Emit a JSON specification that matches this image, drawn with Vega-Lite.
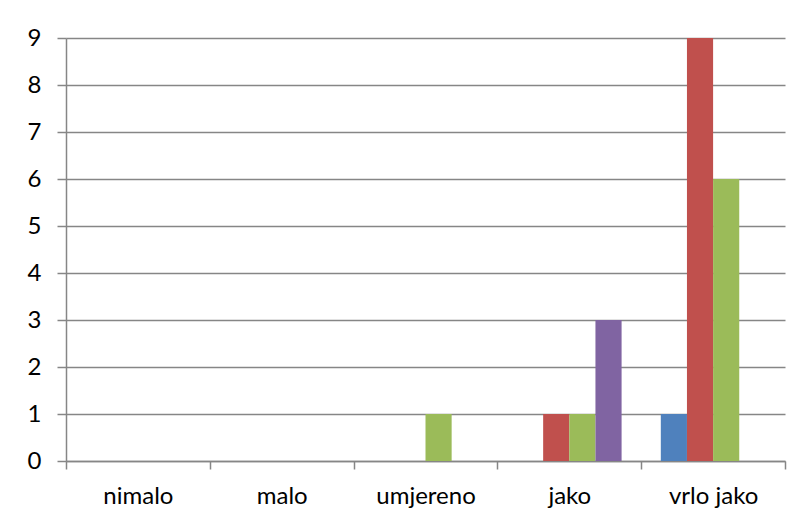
{
  "$schema": "https://vega.github.io/schema/vega-lite/v6.json",
  "autosize": "none",
  "width": 719,
  "height": 423,
  "padding": {"left": 66, "top": 38, "right": 17, "bottom": 63},
  "background": "white",
  "config": {
    "view": {"stroke": null},
    "font": "Lato",
    "axis": {"labelFont": "Lato", "labelFontSize": 24, "labelColor": "#000000", "labelFontWeight": "normal"}
  },
  "data": {
    "values": [
      {"kategorija": "nimalo", "serija": "S1", "broj": 0},
      {"kategorija": "nimalo", "serija": "S2", "broj": 0},
      {"kategorija": "nimalo", "serija": "S3", "broj": 0},
      {"kategorija": "nimalo", "serija": "S4", "broj": 0},
      {"kategorija": "malo", "serija": "S1", "broj": 0},
      {"kategorija": "malo", "serija": "S2", "broj": 0},
      {"kategorija": "malo", "serija": "S3", "broj": 0},
      {"kategorija": "malo", "serija": "S4", "broj": 0},
      {"kategorija": "umjereno", "serija": "S1", "broj": 0},
      {"kategorija": "umjereno", "serija": "S2", "broj": 0},
      {"kategorija": "umjereno", "serija": "S3", "broj": 1},
      {"kategorija": "umjereno", "serija": "S4", "broj": 0},
      {"kategorija": "jako", "serija": "S1", "broj": 0},
      {"kategorija": "jako", "serija": "S2", "broj": 1},
      {"kategorija": "jako", "serija": "S3", "broj": 1},
      {"kategorija": "jako", "serija": "S4", "broj": 3},
      {"kategorija": "vrlo jako", "serija": "S1", "broj": 1},
      {"kategorija": "vrlo jako", "serija": "S2", "broj": 9},
      {"kategorija": "vrlo jako", "serija": "S3", "broj": 6},
      {"kategorija": "vrlo jako", "serija": "S4", "broj": 0}
    ]
  },
  "mark": {"type": "bar"},
  "encoding": {
    "x": {
      "field": "kategorija",
      "type": "nominal",
      "sort": ["nimalo", "malo", "umjereno", "jako", "vrlo jako"],
      "scale": {"paddingInner": 0, "paddingOuter": 0},
      "axis": {
        "title": null,
        "labelAngle": 0,
        "tickBand": "extent",
        "tickSize": 8,
        "tickColor": "#868686",
        "tickWidth": 1.5,
        "domainColor": "#868686",
        "domainWidth": 1.5,
        "labelPadding": 15,
        "grid": false
      }
    },
    "xOffset": {
      "field": "serija",
      "type": "nominal",
      "scale": {"paddingInner": 0, "paddingOuter": 0.75}
    },
    "y": {
      "field": "broj",
      "type": "quantitative",
      "scale": {"domain": [0, 9], "nice": false},
      "axis": {
        "title": null,
        "values": [0, 1, 2, 3, 4, 5, 6, 7, 8, 9],
        "grid": true,
        "gridColor": "#868686",
        "gridWidth": 1.5,
        "tickSize": 9,
        "tickColor": "#868686",
        "tickWidth": 1.5,
        "domainColor": "#868686",
        "domainWidth": 1.5,
        "labelPadding": 16
      }
    },
    "color": {
      "field": "serija",
      "type": "nominal",
      "scale": {"domain": ["S1", "S2", "S3", "S4"], "range": ["#4F81BD", "#C0504D", "#9BBB59", "#8064A2"]},
      "legend": null
    }
  }
}
